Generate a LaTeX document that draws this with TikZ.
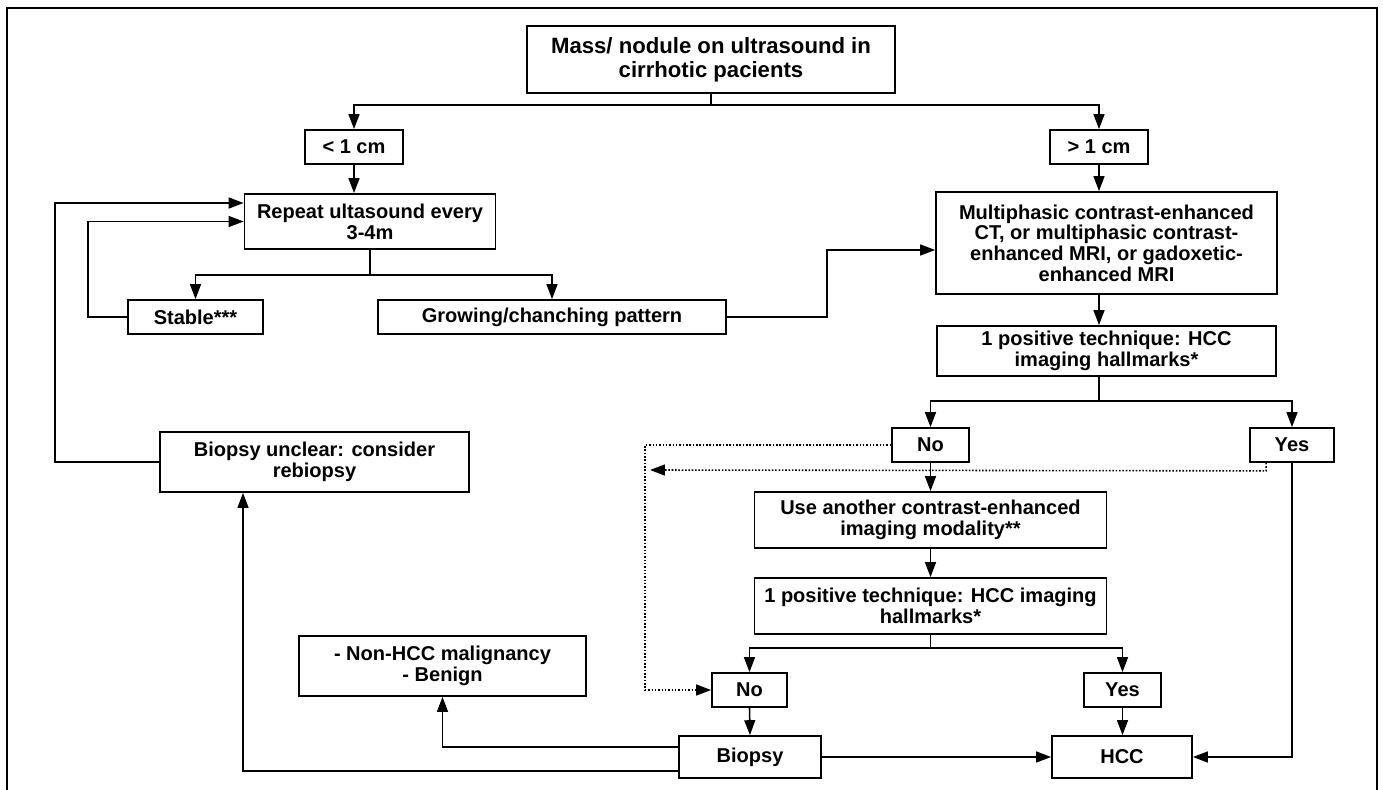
\documentclass[tikz,border=0pt]{standalone}
\usepackage{fontspec}
\setmainfont{Liberation Sans}
\usepackage{tikz}
\usetikzlibrary{arrows.meta}

\begin{document}
\begin{tikzpicture}[x=0.02cm, y=-0.02cm, line width=0.9pt, >={Triangle[length=8.5pt, width=6.2pt]},
    box/.style={rectangle, draw, line width=1pt, align=center, inner sep=0pt, font=\fontsize{11.4}{11.8}\selectfont\bfseries},
    small/.style={box, minimum width=1.96cm, minimum height=0.68cm}]
    \useasboundingbox (0,0) rectangle (1383,790);
    \draw[line width=1pt] (7,800) -- (7,8) -- (1377,8) -- (1377,800);

    \node[box, minimum width=7.36cm, minimum height=1.34cm, font=\fontsize{12.6}{13.6}\selectfont\bfseries] (top) at (711,59.5) {Mass/ nodule on ultrasound in\\cirrhotic pacients};
    \node[small] (lt1) at (354,147) {< 1 cm};
    \node[small] (gt1) at (1099,147) {> 1 cm};
    \node[box, minimum width=5.02cm, minimum height=1.10cm] (repeat) at (370,221.5) {Repeat ultasound every\\3-4m};
    \node[small, minimum width=2.70cm] (stable) at (195.5,317) {Stable***};
    \node[small, minimum width=6.96cm] (growing) at (552,317) {Growing/chanching pattern};
    \node[box, minimum width=6.82cm, minimum height=2.04cm] (multi) at (1106.5,243) {Multiphasic contrast-enhanced\\CT, or multiphasic contrast-\\enhanced MRI, or gadoxetic-\\enhanced MRI};
    \node[box, minimum width=6.78cm, minimum height=1.00cm] (pos1) at (1106.5,351) {1 positive technique: HCC\\imaging hallmarks*};
    \node[small, minimum width=1.54cm] (no1) at (930.5,445) {No};
    \node[small, minimum width=1.68cm] (yes1) at (1292,445) {Yes};
    \node[box, minimum width=7.04cm, minimum height=1.12cm] (other) at (930.5,520) {Use another contrast-enhanced\\imaging modality**};
    \node[box, minimum width=7.04cm, minimum height=1.12cm] (pos2) at (930.5,606) {1 positive technique: HCC imaging\\hallmarks*};
    \node[small, minimum width=1.50cm] (no2) at (749.5,690) {No};
    \node[small, minimum width=1.54cm] (yes2) at (1122.5,690) {Yes};
    \node[box, minimum width=2.84cm, minimum height=0.84cm] (biopsy) at (750,757) {Biopsy};
    \node[box, minimum width=2.80cm, minimum height=0.84cm] (hcc) at (1122,757) {HCC};
    \node[box, minimum width=5.74cm, minimum height=1.20cm] (nonhcc) at (442.5,666) {- Non-HCC malignancy\\- Benign};
    \node[box, minimum width=6.18cm, minimum height=1.20cm] (unclear) at (314.5,462) {Biopsy unclear: consider\\rebiopsy};

    % size split
    \draw[->] (top.south) -- ++(0,11) -| (lt1.north);
    \draw[->] (top.south) -- ++(0,11) -| (gt1.north);
    % small nodules
    \draw[->] (lt1.south) -- (lt1.south |- repeat.north);
    \draw[->] (repeat.south) -- ++(0,25) -| (stable.north);
    \draw[->] (repeat.south) -- ++(0,25) -| (growing.north);
    \draw[->] (stable.west) -- ++(-39,0) |- (repeat.west);
    \draw[->] (unclear.west) -- ++(-104,0) |- ([yshift=0.37cm]repeat.west);
    \draw[->] (growing.east) -- ++(100,0) |- ([yshift=-0.14cm]multi.west);
    % large nodules
    \draw[->] (gt1.south) -- (gt1.south |- multi.north);
    \draw[->] (multi.south -| gt1) -- (pos1.north -| gt1);
    \draw[->] (pos1.south -| gt1) -- ++(0,24) -| (no1.north);
    \draw[->] (pos1.south -| gt1) -- ++(0,24) -| (yes1.north);
    \draw[->] (no1.south) -- (other.north);
    \draw[->] (other.south) -- (pos2.north);
    \draw[->] (pos2.south) -- ++(0,13) -| (no2.north);
    \draw[->] (pos2.south) -- ++(0,13) -| (yes2.north);
    \draw[->] (no2.south) -- (biopsy.north);
    \draw[->] (yes2.south) -- (yes2.south |- hcc.north);
    \draw[->] (yes1.south) |- (hcc.east);
    % biopsy outcomes
    \draw[->] (biopsy.east) -- (hcc.west);
    \draw[->] ([yshift=0.2cm]biopsy.west) -| (nonhcc.south);
    \draw[->] ([yshift=-0.28cm]biopsy.west) -| ([xshift=-1.43cm]unclear.south);
    % dotted paths
    \coordinate (back) at (650,470);
    \draw[densely dotted, ->] (no1.west) -- ++(-246,0) |- (no2.west);
    \draw[densely dotted, ->] ([xshift=0.34cm]yes1.south west) -- ++(0,8) -- (back);
\end{tikzpicture}
\end{document}
